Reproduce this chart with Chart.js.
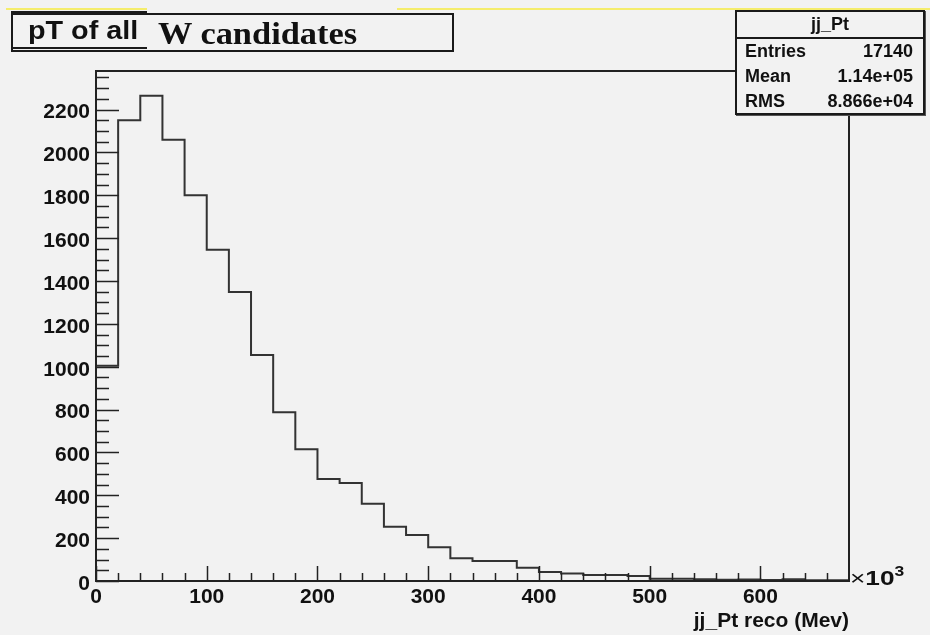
<!DOCTYPE html>
<html>
<head>
<meta charset="utf-8">
<script src="https://cdn.jsdelivr.net/npm/chart.js@4.4.0/dist/chart.umd.min.js"></script>
<style>
    body { margin: 0; background: #f2f2f2; }
    #wrap { position: relative; width: 930px; height: 635px; overflow: hidden; background: #f2f2f2; font-family: "Liberation Sans", Arial, sans-serif; color: #111; }
    #chart { position: absolute; left: 0; top: 0; }
    .yellow { position: absolute; top: 8px; height: 2px; background: #f5ed6c; }
    .box { position: absolute; border: 2px solid #1a1a1a; box-sizing: border-box; }
    .txt { position: absolute; white-space: nowrap; font-weight: bold; transform-origin: left center; }
    .stats { position: absolute; left: 735px; top: 10px; width: 190px; height: 105px; border: 2px solid #1a1a1a; box-sizing: border-box; background: #f2f2f2; box-shadow: 1px 1px 0 #555; font-size: 18px; font-weight: bold; }
    .stats .head { height: 25px; line-height: 25px; text-align: center; border-bottom: 2px solid #1a1a1a; }
    .stats .row { position: relative; height: 25px; line-height: 25px; padding: 0 10px 0 8px; }
    .stats .row span { position: absolute; right: 10px; }
</style>
</head>
<body>
<div id="wrap">
    <canvas id="chart" width="930" height="635"></canvas>
    <div class="yellow" style="left:6px; width:141px;"></div>
    <div class="yellow" style="left:397px; width:533px;"></div>

    <div class="box" style="left:11px; top:13px; width:443px; height:39px;"></div>
    <div class="box" style="left:11px; top:11px; width:136px; height:38px; border-right:none;"></div>
    <div class="txt" style="left:28px; top:15px; font-size:25px; line-height:30px; transform:scaleX(1.15);">pT of all</div>
    <div class="txt" style="left:158px; top:16px; font-family:'Liberation Serif', 'Times New Roman', serif; font-size:31px; line-height:36px; transform:scaleX(1.11);">W candidates</div>

    <div class="stats">
        <div class="head">jj_Pt</div>
        <div class="row">Entries<span id="sEntries"></span></div>
        <div class="row">Mean<span id="sMean"></span></div>
        <div class="row">RMS<span id="sRms"></span></div>
    </div>

    <div class="txt" style="left:850px; top:559px; font-size:21px; line-height:24px; transform:scaleX(1.25);"><span style="font-weight:normal;">&times;</span>10<sup style="font-size:14px; vertical-align:9px;">3</sup></div>
</div>

<script>
// histogram jj_Pt, bins of 20 (x10^3 MeV)
const binLow = [0, 20, 40, 60, 80, 100, 120, 140, 160, 180, 200, 220, 240, 260, 280, 300, 320,
    340, 360, 380, 400, 420, 440, 460, 480, 500, 520, 540, 560, 580, 600, 620, 640, 660];
const counts = [1005, 2150, 2265, 2059, 1800, 1546, 1349, 1055, 787, 615, 476, 457, 361, 253, 215, 157, 106,
    93, 93, 62, 42, 35, 28, 28, 23, 11, 11, 8, 6, 7, 5, 8, 4, 3];
const xTicks = [0, 100, 200, 300, 400, 500, 600];
const yTicks = [0, 200, 400, 600, 800, 1000, 1200, 1400, 1600, 1800, 2000, 2200];
const X_MAX = 680;
const Y_MAX = 2380;

const statsValues = ['17140', '1.14e+05', '8.866e+04'];

document.getElementById('sEntries').textContent = statsValues[0];
document.getElementById('sMean').textContent = statsValues[1];
document.getElementById('sRms').textContent = statsValues[2];

// outline points for a step-before line
const outline = [{ x: binLow[0], y: 0 }];
binLow.forEach((lo, i) => outline.push({ x: lo, y: counts[i] }));
outline.push({ x: X_MAX, y: counts[counts.length - 1] });
outline.push({ x: X_MAX, y: 0 });

// frame + inner ticks like ROOT
const rootFrame = {
    id: 'rootFrame',
    afterDraw(chart) {
        const { ctx, chartArea: a, scales: { x, y } } = chart;
        ctx.save();
        ctx.strokeStyle = '#222';
        ctx.lineWidth = 1.5;
        ctx.beginPath();
        for (let v = 0; v < Y_MAX; v += 50) {
            const py = Math.round(y.getPixelForValue(v)) + 0.5;
            const len = v % 200 === 0 ? 23 : 13;
            ctx.moveTo(a.left, py);
            ctx.lineTo(a.left + len, py);
        }
        for (let v = 0; v < X_MAX; v += 20) {
            const px = Math.round(x.getPixelForValue(v)) + 0.5;
            const len = v % 100 === 0 ? 15 : 8;
            ctx.moveTo(px, a.bottom);
            ctx.lineTo(px, a.bottom - len);
        }
        ctx.stroke();
        ctx.lineWidth = 2;
        ctx.strokeRect(a.left, a.top, a.right - a.left, a.bottom - a.top);
        ctx.restore();
    },
};

const labelFont = { family: '"Liberation Sans", Arial, sans-serif', size: 21, weight: 'bold' };

new Chart(document.getElementById('chart'), {
    type: 'line',
    data: {
        datasets: [{
            label: 'jj_Pt',
            data: outline,
            stepped: true,
            borderColor: '#333',
            borderWidth: 2,
            pointRadius: 0,
            fill: false,
        }],
    },
    options: {
        responsive: false,
        animation: false,
        layout: {
            padding: { top: 71, right: 81, left: 0, bottom: 0 },
        },
        plugins: {
            legend: { display: false },
            tooltip: { enabled: false },
        },
        scales: {
            x: {
                type: 'linear',
                min: 0,
                max: X_MAX,
                afterBuildTicks: (scale) => { scale.ticks = xTicks.map((v) => ({ value: v })); },
                afterFit: (scale) => { scale.height = 54; },
                grid: { drawOnChartArea: false, drawTicks: false },
                border: { display: false },
                ticks: {
                    maxRotation: 0,
                    autoSkip: false,
                    padding: 4,
                    color: '#111',
                    font: labelFont,
                    callback: (v) => String(v),
                },
                title: {
                    display: true,
                    text: 'jj_Pt reco (Mev)',
                    align: 'end',
                    color: '#111',
                    font: labelFont,
                    padding: { top: 0, bottom: 1 },
                },
            },
            y: {
                min: 0,
                max: Y_MAX,
                afterBuildTicks: (scale) => { scale.ticks = yTicks.map((v) => ({ value: v })); },
                afterFit: (scale) => { scale.width = 96; },
                grid: { drawOnChartArea: false, drawTicks: false },
                border: { display: false },
                ticks: {
                    autoSkip: false,
                    padding: 6,
                    labelOffset: 3,
                    color: '#111',
                    font: labelFont,
                    callback: (v) => String(v),
                },
            },
        },
    },
    plugins: [rootFrame],
});
</script>
</body>
</html>
